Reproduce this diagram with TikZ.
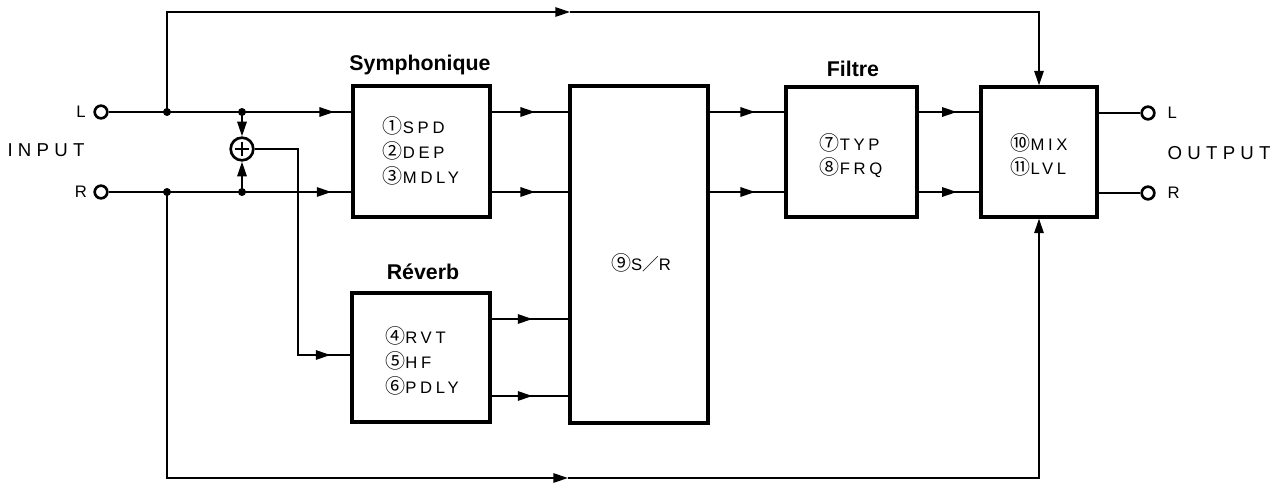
\documentclass[tikz,border=0pt]{standalone}
\usepackage{fontspec}
\setmainfont{Liberation Sans}
\newfontfamily\lbl[LetterSpace=22]{Liberation Sans}
\newfontfamily\iolbl[LetterSpace=28]{Liberation Sans}
\newfontfamily\cjkf{Noto Sans CJK JP}
\usetikzlibrary{arrows.meta,decorations.markings}
\newcommand\cn[1]{{\cjkf\fontsize{15}{15}\selectfont #1}}
\tikzset{
  wire/.style={line width=1.5pt},
  blk/.style={draw,line width=2.3pt,rectangle,inner sep=0pt},
  btxt/.style={align=left,inner sep=0pt,font=\lbl\fontsize{12.5}{18.5}\selectfont},
  ttl/.style={font=\bfseries\fontsize{16}{16}\selectfont,anchor=base},
  port/.style={draw,circle,line width=2pt,minimum size=9.5pt,inner sep=0pt,fill=white},
  dot/.style={circle,fill,minimum size=6pt,inner sep=0pt},
  tip/.style={-{Triangle[length=11pt,width=7pt]}},
  arrowat/.style={postaction={decorate,decoration={markings,
     mark=at position #1 with {\arrow{Triangle[length=11pt,width=7pt]}}}}},
  io/.style={font=\iolbl\fontsize{14}{14}\selectfont},
  pl/.style={font=\lbl\fontsize{12.5}{12.5}\selectfont}
}
\begin{document}
\begin{tikzpicture}[x=0.75pt,y=-0.75pt]
\useasboundingbox (0,0) rectangle (1279,483);
% blocks
\node[blk,minimum width=102.75pt,minimum height=98.25pt] (sym) at (421.5,151.5) {};
\node[blk,minimum width=103.5pt,minimum height=96.75pt] (rev) at (421,357.5) {};
\node[blk,minimum width=103.5pt,minimum height=252.75pt] (sr) at (639,254.5) {};
\node[blk,minimum width=98.25pt,minimum height=97.5pt] (fil) at (851.5,152) {};
\node[blk,minimum width=87pt,minimum height=97.5pt] (mix) at (1039,152) {};
% block texts
\node[btxt] (symtxt) at (421,151) {\cn{①}SPD\\\cn{②}DEP\\\cn{③}MDLY};
\node[btxt] (revtxt) at (422,361) {\cn{④}RVT\\\cn{⑤}HF\\\cn{⑥}PDLY};
\node[btxt] (srtxt) at (641,263) {\cn{⑨}S{\cjkf ／}R};
\node[btxt] (filtxt) at (851,155.5) {\cn{⑦}TYP\\\cn{⑧}FRQ};
\node[btxt] (mixtxt) at (1039,155) {\cn{⑩}MIX\\\cn{⑪}LVL};
% titles
\node[ttl] (tsym) at (420,70) {Symphonique};
\node[ttl] (trev) at (423,279) {Réverb};
\node[ttl] (tfil) at (853,76) {Filtre};
% input ports
\node[port] (inL) at (101,112) {};
\node[port] (inR) at (101,192) {};
\node[pl] (lL) at (81,112) {L};
\node[pl] (lR) at (81,192) {R};
\node[io] (tin) at (46,150) {INPUT};
% output ports
\node[port] (outL) at (1148,113) {};
\node[port] (outR) at (1148,193) {};
\node[pl,anchor=west] (oL) at (1163,113) {L};
\node[pl,anchor=west] (oR) at (1163,193) {R};
\node[io,anchor=west] (tout) at (1163,153) {OUTPUT};
% junctions
\coordinate (jL) at (167,112);
\coordinate (jR) at (167,192);
\coordinate (sL) at (242,112);
\coordinate (sR) at (242,192);
\node[draw,circle,line width=2pt,minimum size=17pt,inner sep=0pt] (sum) at (242,149) {};
\draw[line width=1.6pt] ([xshift=-5.5pt]sum.center) -- ([xshift=5.5pt]sum.center)
  ([yshift=-5.5pt]sum.center) -- ([yshift=5.5pt]sum.center);
% input wires
\draw[wire,arrowat=-13pt] (inL) -- (sym.west |- inL);
\draw[wire,arrowat=-15pt] (inR) -- (sym.west |- inR);
\draw[wire,tip] (sL) -- (sum.north);
\draw[wire,tip] (sR) -- (sum.south);
\coordinate (sa) at (298,149);
\coordinate (sb) at (298,355);
\draw[wire,arrowat=-15pt] (sum.east) -- (sa) -- (sb) -- (rev.west |- sb);
% top bypass
\coordinate (t1) at (167,12);
\coordinate (t2) at (570,12);
\coordinate (t3) at (1039,12);
\draw[wire,tip] (jL) -- (t1) -- (t2);
\draw[wire,tip] (t2) -- (t3) -- (mix.north);
% bottom bypass
\coordinate (b1) at (167,478);
\coordinate (b2) at (568,478);
\coordinate (b3) at (1039,478);
\draw[wire,tip] (jR) -- (b1) -- (b2);
\draw[wire,tip] (b2) -- (b3) -- (mix.south);
% sym -> sr
\coordinate (y1) at (0,112);
\coordinate (y2) at (0,192);
\coordinate (y3) at (0,319);
\coordinate (y4) at (0,396);
\draw[wire,arrowat=-25pt] (sym.east |- y1) -- (sr.west |- y1);
\draw[wire,arrowat=-25pt] (sym.east |- y2) -- (sr.west |- y2);
\draw[wire,arrowat=-27pt] (rev.east |- y3) -- (sr.west |- y3);
\draw[wire,arrowat=-27pt] (rev.east |- y4) -- (sr.west |- y4);
% sr -> filter
\draw[wire,arrowat=-22pt] (sr.east |- y1) -- (fil.west |- y1);
\draw[wire,arrowat=-22pt] (sr.east |- y2) -- (fil.west |- y2);
% filter -> mix
\draw[wire,arrowat=-17pt] (fil.east |- y1) -- (mix.west |- y1);
\draw[wire,arrowat=-17pt] (fil.east |- y2) -- (mix.west |- y2);
% mix -> out
\draw[wire] (mix.east |- outL) -- (outL);
\draw[wire] (mix.east |- outR) -- (outR);
% dots
\node[dot] (dL) at (jL) {};
\node[dot] (dR) at (jR) {};
\node[dot] (dsL) at (sL) {};
\node[dot] (dsR) at (sR) {};
\end{tikzpicture}
\end{document}
